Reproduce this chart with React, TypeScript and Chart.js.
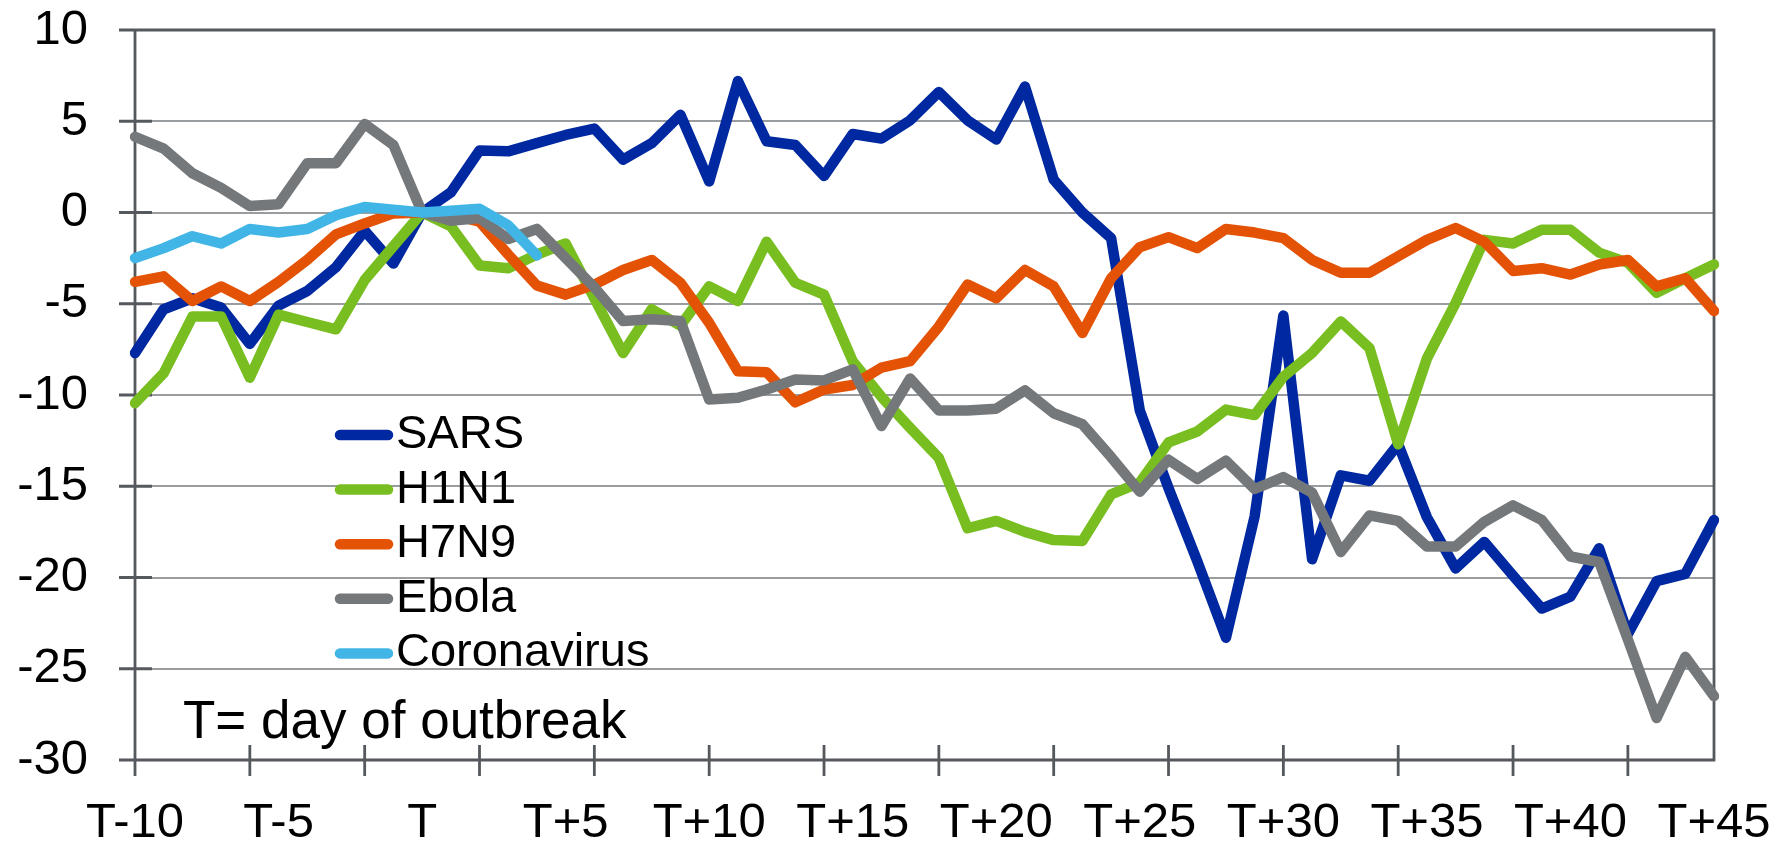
import React, { useEffect, useRef } from "react";
import { Chart, registerables } from "chart.js";

Chart.register(...registerables);

// Category axis: days relative to outbreak
const days = [
  "T-10", "T-9", "T-8", "T-7", "T-6", "T-5", "T-4", "T-3", "T-2", "T-1",
  "T", "T+1", "T+2", "T+3", "T+4", "T+5", "T+6", "T+7", "T+8", "T+9",
  "T+10", "T+11", "T+12", "T+13", "T+14", "T+15", "T+16", "T+17", "T+18", "T+19",
  "T+20", "T+21", "T+22", "T+23", "T+24", "T+25", "T+26", "T+27", "T+28", "T+29",
  "T+30", "T+31", "T+32", "T+33", "T+34", "T+35", "T+36", "T+37", "T+38", "T+39",
  "T+40", "T+41", "T+42", "T+43", "T+44", "T+45",
];

const sars = [
  -7.7, -5.3, -4.7, -5.2, -7.2, -5.1, -4.3, -3.0, -1.0, -2.8,
  0, 1.1, 3.4, 3.35, 3.8, 4.25, 4.6, 2.9, 3.8, 5.35,
  1.7, 7.2, 3.9, 3.7, 2.0, 4.3, 4.05, 5.05, 6.6, 5.05,
  4.0, 6.9, 1.8, 0.0, -1.4, -10.85, -15.1, -19.1, -23.3, -16.65,
  -5.65, -19.0, -14.4, -14.7, -12.7, -16.7, -19.5, -18.05, -19.9, -21.7,
  -21.05, -18.4, -23.1, -20.2, -19.8, -16.85,
];

const h1n1 = [
  -10.45, -8.8, -5.7, -5.7, -9.05, -5.6, -6.0, -6.4, -3.7, -1.85,
  0, -0.75, -2.9, -3.05, -2.3, -1.7, -4.7, -7.7, -5.3, -6.2,
  -4.05, -4.85, -1.6, -3.85, -4.5, -8.15, -10.1, -11.8, -13.45, -17.3,
  -16.9, -17.5, -17.95, -18.0, -15.45, -14.8, -12.6, -12.0, -10.8, -11.1,
  -9.0, -7.7, -5.97, -7.43, -12.7, -8.0, -4.96, -1.5, -1.7, -0.95,
  -0.95, -2.2, -2.75, -4.4, -3.6, -2.85,
];

const h7n9 = [
  -3.8, -3.5, -4.85, -4.05, -4.85, -3.8, -2.6, -1.2, -0.6, -0.05,
  0, -0.1, -0.5, -2.3, -4.0, -4.5, -3.95, -3.15, -2.6, -3.85,
  -6.05, -8.7, -8.75, -10.4, -9.7, -9.45, -8.5, -8.15, -6.25, -3.95,
  -4.7, -3.15, -4.05, -6.6, -3.6, -1.9, -1.35, -1.95, -0.9, -1.1,
  -1.4, -2.6, -3.3, -3.3, -2.4, -1.5, -0.85, -1.6, -3.2, -3.05,
  -3.4, -2.85, -2.6, -4.05, -3.6, -5.4,
];

const ebola = [
  4.15, 3.5, 2.15, 1.35, 0.35, 0.45, 2.7, 2.7, 4.85, 3.7,
  0, -0.45, -0.3, -1.45, -0.9, -2.5, -4.1, -5.95, -5.85, -5.95,
  -10.25, -10.15, -9.7, -9.15, -9.2, -8.6, -11.7, -9.1, -10.85, -10.85,
  -10.75, -9.75, -11.0, -11.6, -13.4, -15.3, -13.55, -14.6, -13.6, -15.15,
  -14.5, -15.35, -18.6, -16.6, -16.9, -18.3, -18.3, -16.95, -16.05, -16.85,
  -18.85, -19.15, -23.4, -27.7, -24.35, -26.5,
];

const coronavirus = [
  -2.5, -1.95, -1.3, -1.7, -0.9, -1.1, -0.9, -0.15, 0.3, 0.15,
  0, 0.1, 0.2, -0.7, -2.35,
];

const seriesNames = ["SARS", "H1N1", "H7N9", "Ebola", "Coronavirus"];
const seriesValues = [sars, h1n1, h7n9, ebola, coronavirus];
const seriesColors = ["#0028a0", "#78be20", "#e35205", "#75787b", "#41b6e6"];

const yTickValues = [10, 5, 0, -5, -10, -15, -20, -25, -30];
const labelEvery = 5;
const tickMarkEvery = 4;
const noteText = "T= day of outbreak";

const FONT = '"Liberation Sans", Arial, sans-serif';
const AXIS_COLOR = "#55595e";
const GRID_COLOR = "#9a9da0";
const LINE_W = 10.5;

const framePlugin = {
  id: "frame",
  beforeDatasetsDraw(chart: any) {
    const { ctx, chartArea: a, scales } = chart;
    const x = scales.x;
    const y = scales.y;
    ctx.save();
    ctx.strokeStyle = AXIS_COLOR;
    ctx.lineWidth = 2.8;
    ctx.beginPath();
    ctx.moveTo(a.left, a.top);
    ctx.lineTo(a.right, a.top);
    ctx.lineTo(a.right, a.bottom);
    ctx.lineTo(a.left, a.bottom);
    ctx.closePath();
    for (const v of yTickValues) {
      const py = y.getPixelForValue(v);
      ctx.moveTo(a.left - 16, py);
      ctx.lineTo(a.left + 17, py);
    }
    for (let i = 0; i < days.length; i += tickMarkEvery) {
      const px = x.getPixelForValue(i);
      ctx.moveTo(px, a.bottom - 15);
      ctx.lineTo(px, a.bottom + 16);
    }
    ctx.stroke();
    ctx.restore();
  },
  afterDraw(chart: any) {
    const { ctx, chartArea: a } = chart;
    ctx.save();
    // legend
    ctx.font = `47px ${FONT}`;
    ctx.textBaseline = "middle";
    ctx.textAlign = "left";
    seriesNames.forEach((name, k) => {
      const cy = a.top + 405 + k * 54.6;
      ctx.strokeStyle = seriesColors[k];
      ctx.lineWidth = LINE_W;
      ctx.lineCap = "round";
      ctx.beginPath();
      ctx.moveTo(a.left + 205, cy);
      ctx.lineTo(a.left + 253, cy);
      ctx.stroke();
      ctx.fillStyle = "#000";
      ctx.fillText(name, a.left + 261, cy);
    });
    // note
    ctx.font = `53px ${FONT}`;
    ctx.textBaseline = "alphabetic";
    ctx.fillStyle = "#000";
    ctx.fillText(noteText, a.left + 48, a.top + 708);
    ctx.restore();
  },
};

export default function App() {
  const canvasRef = useRef<HTMLCanvasElement | null>(null);

  useEffect(() => {
    const canvas = canvasRef.current;
    if (!canvas) return;
    const datasets = seriesNames.map((name, k) => ({
      label: name,
      data: seriesValues[k],
      borderColor: seriesColors[k],
      backgroundColor: seriesColors[k],
      borderWidth: LINE_W,
      borderJoinStyle: "round" as const,
      borderCapStyle: "round" as const,
      pointRadius: 0,
      pointHoverRadius: 0,
      tension: 0,
      fill: false,
      order: seriesNames.length - k,
    }));

    const chart = new Chart(canvas, {
      type: "line",
      data: { labels: days, datasets },
      options: {
        responsive: false,
        animation: false,
        events: [],
        layout: { padding: { top: 30, right: 78, left: 0, bottom: 0 } },
        plugins: {
          legend: { display: false },
          tooltip: { enabled: false },
          title: { display: false },
        },
        scales: {
          x: {
            type: "category",
            offset: false,
            grid: { display: false, drawTicks: false },
            border: { display: false },
            ticks: {
              autoSkip: false,
              maxRotation: 0,
              minRotation: 0,
              padding: 34,
              color: "#000",
              font: { family: FONT, size: 49 },
              callback: (_v: any, i: number) => (i % labelEvery === 0 ? days[i] : ""),
            },
            afterFit: (scale: any) => {
              scale.height = 86;
              scale.paddingLeft = 0;
              scale.paddingRight = 0;
            },
          },
          y: {
            min: -30,
            max: 10,
            grid: { color: GRID_COLOR, lineWidth: 2, drawTicks: false },
            border: { display: false },
            ticks: {
              stepSize: 5,
              padding: 47,
              color: "#000",
              font: { family: FONT, size: 49 },
              callback: (v: any) => String(v),
            },
            afterFit: (scale: any) => {
              scale.width = 135;
              scale.paddingTop = 0;
              scale.paddingBottom = 0;
            },
          },
        },
      },
      plugins: [framePlugin],
    });
    return () => chart.destroy();
  }, []);

  return (
    <div style={{ position: "fixed", left: 0, top: 0, width: 1792, height: 846, background: "#fff" }}>
      <canvas ref={canvasRef} width={1792} height={846} style={{ display: "block" }} />
    </div>
  );
}
